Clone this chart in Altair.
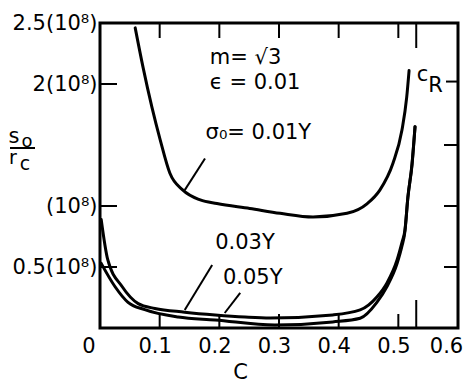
import altair as alt
import pandas as pd

FONT = "DejaVu Sans"

# ---- curve data (c, s0/rc in units of 1e8) ----
up_c = [0.059, 0.072, 0.087, 0.101, 0.117, 0.139, 0.168, 0.196, 0.251, 0.302,
        0.357, 0.414, 0.448, 0.469, 0.491, 0.506, 0.514, 0.518]
up_y = [2.46, 2.14, 1.81, 1.54, 1.27, 1.13, 1.05, 1.02, 0.98, 0.94,
        0.91, 0.94, 1.02, 1.13, 1.35, 1.62, 1.89, 2.11]
a_c = [0.002, 0.013, 0.037, 0.064, 0.092, 0.142, 0.193, 0.243, 0.285, 0.39,
       0.436, 0.464, 0.481, 0.498, 0.506, 0.511, 0.516, 0.523, 0.528]
a_y = [0.89, 0.56, 0.34, 0.20, 0.16, 0.13, 0.107, 0.09, 0.082, 0.107,
       0.148, 0.254, 0.37, 0.56, 0.70, 0.80, 1.07, 1.35, 1.65]
b_c = [0.002, 0.025, 0.047, 0.075, 0.131, 0.193, 0.293, 0.39, 0.436, 0.464,
       0.481, 0.498, 0.506, 0.511, 0.516, 0.523, 0.528]
b_y = [0.53, 0.34, 0.21, 0.15, 0.09, 0.066, 0.025, 0.05, 0.08, 0.21,
       0.34, 0.53, 0.67, 0.79, 1.07, 1.34, 1.65]

# ---- leader lines ----
lead_sig_c = [0.142, 0.176]
lead_sig_y = [1.13, 1.39]
lead_03_c = [0.142, 0.188]
lead_03_y = [0.148, 0.516]
lead_05_c = [0.209, 0.235]
lead_05_y = [0.123, 0.287]

# ---- annotations ----
ann_text = ["m= √3", "ϵ = 0.01", "σ₀= 0.01Y", "0.03Y", "0.05Y", "c", "R"]
ann_c = [0.184, 0.184, 0.177, 0.193, 0.206, 0.531, 0.55]
ann_y = [2.21, 2.01, 1.60, 0.70, 0.41, 2.07, 1.98]

# ---- ticks ----
x_tick_vals = [0.1, 0.2, 0.3, 0.4, 0.5]
c_R = 0.53
left_tick_vals = [0.5, 1.0, 2.0]
right_tick_vals = [0.5, 1.0, 1.5]
cR_right_y = 2.02
x_label_vals = [0, 0.1, 0.2, 0.3, 0.4, 0.5, 0.6]
y_label_vals = [0.5, 1.0, 2.0, 2.5]

W, H = 358, 305

xs = alt.Scale(domain=[0, 0.6], nice=False, zero=False)
ys = alt.Scale(domain=[0, 2.5], nice=False, zero=False)

rows = []
for name, cs, vs in [("up", up_c, up_y), ("a", a_c, a_y), ("b", b_c, b_y),
                     ("l1", lead_sig_c, lead_sig_y), ("l2", lead_03_c, lead_03_y),
                     ("l3", lead_05_c, lead_05_y)]:
    for i, (c, v) in enumerate(zip(cs, vs)):
        rows.append({"s": name, "i": i, "c": c, "v": v})
curves = pd.DataFrame(rows)

xax = alt.Axis(values=x_label_vals, labelExpr="format(datum.value, '.1~f')",
               ticks=False, domain=False, grid=False, labelFont=FONT,
               labelFontSize=21, labelColor="black", labelPadding=7,
               labelFlush=False, labelOverlap=False, labelBound=False,
               labelAlign={"condition": {"test": "datum.value == 0", "value": "right"}, "value": "center"},
               labelOffset={"condition": {"test": "datum.value > 0.55", "value": -12}, "value": -5},
               title="C", titleFont=FONT, titleFontSize=21, titleFontWeight="normal",
               titleX=140, titleY=44, titleBaseline="middle", titleAlign="center")
yax = alt.Axis(values=y_label_vals,
               labelExpr="datum.value == 1 ? '(10⁸)' : format(datum.value, '~g') + '(10⁸)'",
               ticks=False, domain=False, grid=False, labelFont=FONT,
               labelFlush=False, labelOverlap=False,
               labelFontSize=21, labelColor="black", labelPadding=3, title=None)

main_lines = alt.Chart(curves[curves.s.isin(["up", "a", "b"])]).mark_line(
    color="black", strokeWidth=3, interpolate="monotone", strokeCap="round"
).encode(
    x=alt.X("c:Q", scale=xs, axis=xax),
    y=alt.Y("v:Q", scale=ys, axis=yax),
    detail="s:N", order="i:Q",
)

leaders = alt.Chart(curves[curves.s.isin(["l1", "l2", "l3"])]).mark_line(
    color="black", strokeWidth=2
).encode(x=alt.X("c:Q", scale=xs), y=alt.Y("v:Q", scale=ys), detail="s:N", order="i:Q")

ann = pd.DataFrame({"t": ann_text, "c": ann_c, "v": ann_y})
texts = alt.Chart(ann).mark_text(
    font=FONT, fontSize=21, align="left", baseline="middle", color="black"
).encode(x=alt.X("c:Q", scale=xs), y=alt.Y("v:Q", scale=ys), text="t:N")

# ticks
tx = pd.DataFrame({"c": x_tick_vals})
bottom_ticks = alt.Chart(tx).mark_rule(color="black", strokeWidth=2).encode(
    x=alt.X("c:Q", scale=xs), y=alt.value(H), y2=alt.value(H - 14))
top_ticks = alt.Chart(tx).mark_rule(color="black", strokeWidth=2).encode(
    x=alt.X("c:Q", scale=xs), y=alt.value(0), y2=alt.value(15))
cr = pd.DataFrame({"c": [c_R]})
cr_bottom = alt.Chart(cr).mark_rule(color="black", strokeWidth=2).encode(
    x=alt.X("c:Q", scale=xs), y=alt.value(H), y2=alt.value(H - 28))
cr_top = alt.Chart(cr).mark_rule(color="black", strokeWidth=2).encode(
    x=alt.X("c:Q", scale=xs), y=alt.value(0), y2=alt.value(25))
tl = pd.DataFrame({"v": left_tick_vals})
left_ticks = alt.Chart(tl).mark_rule(color="black", strokeWidth=2).encode(
    y=alt.Y("v:Q", scale=ys), x=alt.value(0), x2=alt.value(17))
tr = pd.DataFrame({"v": right_tick_vals})
right_ticks = alt.Chart(tr).mark_rule(color="black", strokeWidth=2).encode(
    y=alt.Y("v:Q", scale=ys), x=alt.value(W), x2=alt.value(W - 14))
crr = pd.DataFrame({"v": [cR_right_y]})
cr_right = alt.Chart(crr).mark_rule(color="black", strokeWidth=2).encode(
    y=alt.Y("v:Q", scale=ys), x=alt.value(W), x2=alt.value(W - 12))

# y-axis title as fraction s0 / rc
yt = pd.DataFrame({"t": ["s", "o", "r", "c"], "px": [-86, -73, -87, -75],
                   "py": [114, 119, 135, 141], "fs": [21, 18, 19, 19]})
ytitle = alt.Chart(yt).mark_text(font=FONT, align="center", baseline="middle",
                                 color="black").encode(
    x=alt.X("px:Q", scale=None), y=alt.Y("py:Q", scale=None), text="t:N",
    size=alt.Size("fs:Q", scale=None, legend=None))
bar = alt.Chart(pd.DataFrame({"k": [0]})).mark_rule(color="black", strokeWidth=2).encode(
    x=alt.value(-90), x2=alt.value(-65), y=alt.value(125))

chart = alt.layer(
    main_lines, leaders, texts, bottom_ticks, top_ticks, cr_bottom, cr_top,
    left_ticks, right_ticks, cr_right, ytitle, bar
).properties(
    width=W, height=H,
    autosize=alt.AutoSizeParams(type="none"),
    padding={"left": 92, "top": 15, "right": 7, "bottom": 54},
    background="white",
).configure_view(stroke="black", strokeWidth=3)

chart.save("out.html", embed_options={"renderer": "svg", "actions": False})
